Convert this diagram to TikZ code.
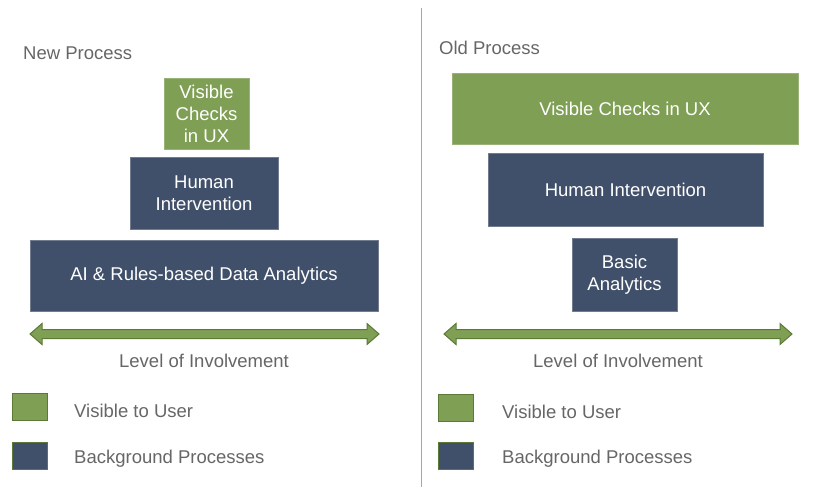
\documentclass[tikz,border=0pt]{standalone}
\usepackage{fontspec}
\setmainfont{Liberation Sans}
\definecolor{visgreen}{HTML}{7F9F55}
\definecolor{bgblue}{HTML}{41506A}
\definecolor{edgegreen}{HTML}{5B7A36}
\definecolor{labelgray}{HTML}{666666}
\definecolor{rulegray}{HTML}{A3AD96}
\tikzset{
  box/.style={inner sep=0pt,align=center,text=white,font=\fontsize{18.5}{22}\selectfont},
  visbox/.style={box,fill=visgreen,draw=visgreen!80!white,line width=.6pt},
  bgbox/.style={box,fill=bgblue,draw=bgblue!75!white,line width=.6pt},
  key/.style={inner sep=0pt,minimum width=35pt,minimum height=27pt,draw=edgegreen,line width=1pt},
  lbl/.style={inner sep=0pt,text=labelgray,font=\fontsize{18.5}{22}\selectfont},
  bigarrow/.style={fill=visgreen,draw=edgegreen,line width=1pt,line join=miter},
}
\begin{document}
\begin{tikzpicture}[x=1pt,y=-1pt]
\useasboundingbox (0,0) rectangle (836,487);
\draw[rulegray,line width=1pt] (421,8)--(421,487);
% new process
\node[lbl,anchor=base west] (newt) at (23,60) {New Process};
\node[visbox,minimum width=85pt,minimum height=71pt,text depth=0pt] (vis1) at (206.5,113.5) {Visible\\Checks\\in UX};
\node[bgbox,minimum width=148pt,minimum height=72pt] (hum1) at (204,193) {Human\\Intervention};
\node[bgbox,minimum width=348pt,minimum height=71pt] (ai) at (204,275.5) {AI \& Rules-based Data Analytics};
\draw[bigarrow] (30,334)--(42,323.5)--(42,329.5)--(367,329.5)--(367,323.5)--(379,334)--(367,344.5)--(367,338.5)--(42,338.5)--(42,344.5)--cycle;
\node[lbl,anchor=base] (lev1) at (204,367) {Level of Involvement};
\node[key,fill=visgreen] (kv1) at (29.5,406.5) {};
\node[key,fill=bgblue] (kb1) at (29.5,455.5) {};
\node[lbl,anchor=base west] (tv1) at (74,417) {Visible to User};
\node[lbl,anchor=base west] (tb1) at (74,463) {Background Processes};
% old process
\node[lbl,anchor=base west] (oldt) at (439,55) {Old Process};
\node[visbox,minimum width=346pt,minimum height=71pt] (vis2) at (625,108.5) {Visible Checks in UX};
\node[bgbox,minimum width=275pt,minimum height=73pt] (hum2) at (625.5,189.5) {Human Intervention};
\node[bgbox,minimum width=105pt,minimum height=73pt] (basic) at (624.5,274.5) {Basic\\Analytics};
\draw[bigarrow] (444,334)--(456,323.5)--(456,329.5)--(780,329.5)--(780,323.5)--(792,334)--(780,344.5)--(780,338.5)--(456,338.5)--(456,344.5)--cycle;
\node[lbl,anchor=base] (lev2) at (618,367) {Level of Involvement};
\node[key,fill=visgreen] (kv2) at (455.5,408) {};
\node[key,fill=bgblue] (kb2) at (455.5,455.5) {};
\node[lbl,anchor=base west] (tv2) at (502,418) {Visible to User};
\node[lbl,anchor=base west] (tb2) at (502,463) {Background Processes};
\end{tikzpicture}
\end{document}
